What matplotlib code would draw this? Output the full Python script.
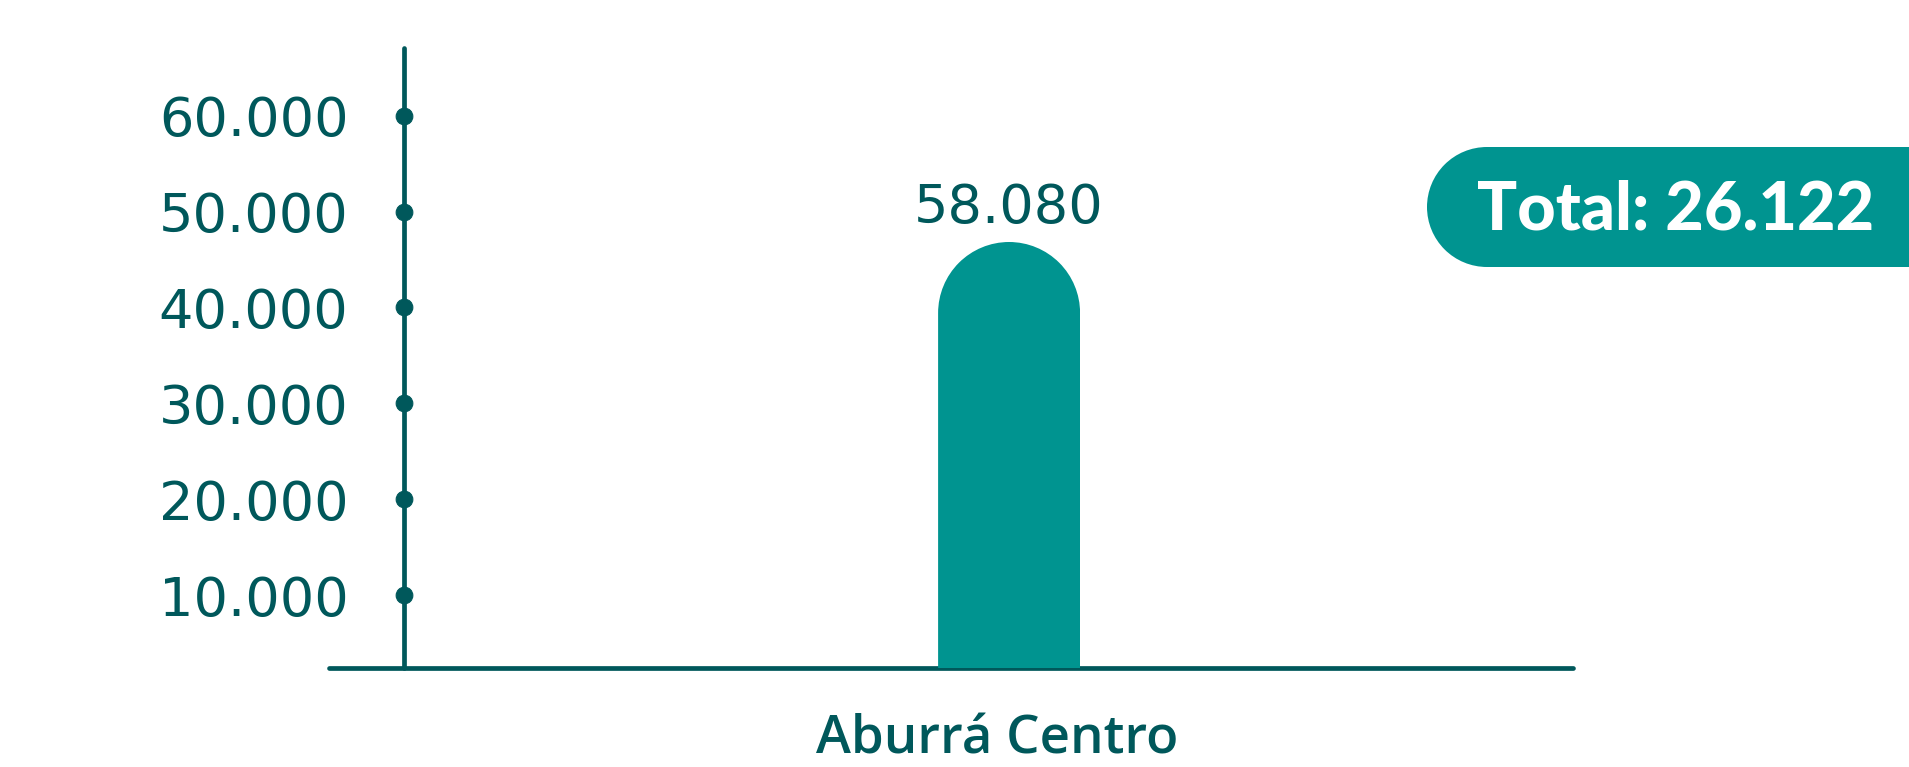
import numpy as np
import matplotlib.pyplot as plt
from matplotlib.patches import Circle, Rectangle
from matplotlib.path import Path
from matplotlib.transforms import IdentityTransform, ScaledTranslation

# data
categories = ["Aburrá Centro"]
values = [58080]
bar_labels = ["58.080"]
y_ticks = [10000, 20000, 30000, 40000, 50000, 60000]
y_tick_labels = ["10.000", "20.000", "30.000", "40.000", "50.000", "60.000"]
total_label = "Total: 26.122"

DARK = "#00585b"
TEAL = "#009490"
W, H, DPI = 1909, 767, 100

fig = plt.figure(figsize=(W / DPI, H / DPI), dpi=DPI)

# axes frame in pixels: baseline x 329..1573, y 48..668 (from top)
left_px, right_px, top_px, base_px = 329, 1573, 48, 668
ax = fig.add_axes([left_px / W, (H - base_px) / H,
                   (right_px - left_px) / W, (base_px - top_px) / H])
ax.set_facecolor("none")

# y scale: 10.000 per ~95.9 px, zero at ~691 px
ax.set_ylim(2390, 67060)
ax.set_xlim(-2.874, 2.383)

for s in ["top", "right"]:
    ax.spines[s].set_visible(False)
ax.spines["left"].set_position(("axes", (404 - left_px) / (right_px - left_px)))
for s in ["left", "bottom"]:
    ax.spines[s].set_color(DARK)
    ax.spines[s].set_linewidth(3.4)
    ax.spines[s].set_capstyle("round")

ax.set_yticks(y_ticks, y_tick_labels)
ax.tick_params(axis="y", length=0, pad=40, labelsize=39, labelcolor=DARK)
for t in ax.yaxis.get_major_ticks():
    t.tick1line.set_marker("o")
    t.tick1line.set_markersize(12)
    t.tick1line.set_markerfacecolor(DARK)
    t.tick1line.set_markeredgecolor(DARK)

ax.set_xticks(range(len(categories)), categories)
ax.tick_params(axis="x", length=0, pad=33, labelcolor=DARK)
shift = ScaledTranslation(-0.12, 0, fig.dpi_scale_trans)
for lab in ax.get_xticklabels():
    lab.set_fontfamily("Open Sans")
    lab.set_fontweight("semibold")
    lab.set_fontsize(38)
    lab.set_transform(lab.get_transform() + shift)

# bar on its own scale
ax2 = ax.twinx()
ax2.set_ylim(0, 58080 * 620 / 426)
ax2.axis("off")
x = np.arange(len(categories))
bars = ax2.bar(x, values, width=0.6, color=TEAL, zorder=1)

# rounded top via clip path (display coords)
renderer = fig.canvas.get_renderer()
arc = Path.arc(0, 180)
for rect in bars:
    bb = rect.get_window_extent(renderer=renderer)
    r = bb.width / 2
    cx, cy = bb.x0 + r, bb.y1 - r
    verts = [(bb.x0, bb.y0), (bb.x1, bb.y0), (bb.x1, cy)]
    codes = [Path.MOVETO, Path.LINETO, Path.LINETO]
    verts += [(cx + r * vx, cy + r * vy) for vx, vy in arc.vertices[1:]]
    codes += list(arc.codes[1:])
    verts += [(bb.x0, bb.y0), (bb.x0, bb.y0)]
    codes += [Path.LINETO, Path.CLOSEPOLY]
    rect.set_clip_path(Path(verts, codes), IdentityTransform())

for xi, v, lab in zip(x, values, bar_labels):
    ax2.annotate(lab, (xi, v), xytext=(0, 13.5), textcoords="offset points",
                 ha="center", va="baseline", fontsize=39, color=DARK)

# total badge (pill cut by the right edge)
fig.patches.append(Circle((1487, H - 207), 60, transform=None,
                          facecolor=TEAL, edgecolor="none"))
fig.patches.append(Rectangle((1487, H - 267), W - 1487, 120, transform=None,
                             facecolor=TEAL, edgecolor="none"))
fig.text(1477 / W, (H - 230) / H, total_label, fontfamily="Lato",
         fontweight="black", fontsize=48, color="white", ha="left", va="baseline")

fig.savefig("out.png", dpi=DPI)
